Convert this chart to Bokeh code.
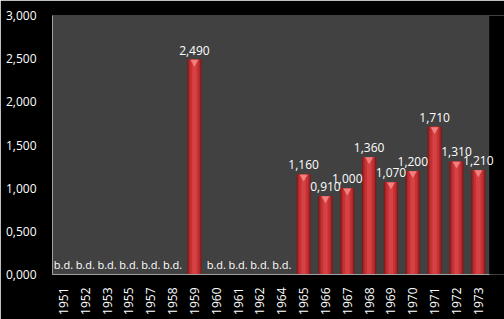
from bokeh.plotting import figure
from bokeh.models import ColumnDataSource, FixedTicker, Range1d, Label, BoxAnnotation
from bokeh.core.properties import value
from bokeh.transform import dodge
from bokeh.embed import file_html
from bokeh.resources import INLINE

years = ["1951", "1952", "1953", "1955", "1957", "1958", "1959", "1960", "1961",
         "1962", "1964", "1965", "1966", "1967", "1968", "1969", "1970", "1971",
         "1972", "1973"]
values = [None, None, None, None, None, None, 2.49, None, None, None, None,
          1.16, 0.91, 1.00, 1.36, 1.07, 1.20, 1.71, 1.31, 1.21]
missing_label = "b.d."
y_ticks = [0, 0.5, 1.0, 1.5, 2.0, 2.5, 3.0]
y_tick_labels = ["0,000", "0,500", "1,000", "1,500", "2,000", "2,500", "3,000"]

def fmt(v):
    return f"{v:.3f}".replace(".", ",")

idx = list(range(len(years)))
bar_x = [i for i, v in zip(idx, values) if v is not None]
bar_v = [v for v in values if v is not None]
bar_lbl = [fmt(v) for v in bar_v]
miss_x = [i for i, v in zip(idx, values) if v is None]

bars = ColumnDataSource(dict(x=bar_x, top=bar_v, lbl=bar_lbl))
miss = ColumnDataSource(dict(x=miss_x, y=[0] * len(miss_x), lbl=[missing_label] * len(miss_x)))

n = len(years)
xr = Range1d(-0.5, n - 0.5 + 0.7)   # extra room on the right for overhanging labels
yr = Range1d(0, 3.0)
p = figure(width=504, height=319, x_range=xr, y_range=yr,
           output_backend="svg", toolbar_location=None,
           background_fill_color="#000000", border_fill_color="#000000",
           min_border_left=52, min_border_right=0, min_border_top=15,
           min_border_bottom=45, outline_line_color=None)
p.xgrid.visible = False
p.ygrid.visible = False

# grey plot area covering the categories
p.add_layout(BoxAnnotation(left=-0.5, right=n - 0.5, bottom=0, top=3.0,
                           fill_color="#414141", fill_alpha=1.0, line_color=None,
                           level="underlay"))

# cylinder-like bars: dark edge, body, highlight
p.vbar(x="x", top="top", width=0.66, source=bars, fill_color="#7e1c1e", line_color=None)
p.vbar(x="x", top="top", width=0.54, source=bars, fill_color="#ad282a", line_color=None)
p.vbar(x="x", top="top", width=0.40, source=bars, fill_color="#c63234", line_color=None)
p.vbar(x="x", top="top", width=0.20, source=bars, fill_color="#d64244", line_color=None)
p.scatter(x="x", y=dodge("top", -0.03, range=yr), source=bars, marker="inverted_triangle",
          size=8, fill_color="#f08080", line_color=None)

p.text(x="x", y="top", text="lbl", source=bars, text_color="white",
       text_font=value("Open Sans"), text_font_size="12px", text_align="center",
       text_baseline="bottom", y_offset=-5)
p.text(x="x", y="y", text="lbl", source=miss, text_color="white",
       text_font=value("Open Sans"), text_font_size="11px", text_align="center",
       text_baseline="bottom", y_offset=-3)

p.xaxis.ticker = FixedTicker(ticks=idx)
p.xaxis.major_label_overrides = {i: y for i, y in zip(idx, years)}
p.xaxis.bounds = (-0.5, n - 0.5)
p.yaxis.ticker = FixedTicker(ticks=y_ticks)
p.yaxis.major_label_overrides = {t: l for t, l in zip(y_ticks, y_tick_labels)}
for ax in (p.xaxis, p.yaxis):
    ax.major_label_text_color = "white"
    ax.major_label_text_font = "Open Sans"
    ax.major_label_text_font_size = "12px"
    ax.major_tick_line_color = None
    ax.minor_tick_line_color = None
    ax.axis_line_color = "#a0a0a0"
p.yaxis.major_label_standoff = 10
p.xaxis.major_label_orientation = 1.5708
p.xaxis.major_label_standoff = 7

open("out.html", "w").write(file_html(p, INLINE))
